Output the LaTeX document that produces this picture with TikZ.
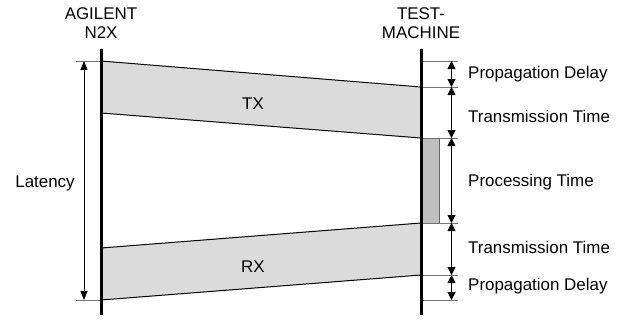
\documentclass[tikz,border=0pt]{standalone}
\usepackage{fontspec}
\setmainfont{Liberation Sans}
\usetikzlibrary{arrows.meta}
\begin{document}
\begin{tikzpicture}[x=1bp,y=-1bp,
  lbl/.style={font=\fontsize{17}{19.5}\selectfont,inner sep=0pt},
  life/.style={line width=3bp,black},
  band/.style={fill=black!14,draw=black,line width=1bp},
  procbox/.style={fill=black!25,draw=black!60,line width=1bp},
  tick/.style={draw=black!55,line width=1bp},
  dim/.style={draw=black!60,line width=0.9bp,{Triangle[width=8bp,length=8bp]}-{Triangle[width=8bp,length=8bp]},black},
  ldim/.style={draw=black,line width=0.8bp,{Triangle[width=7bp,length=9bp]}-{Triangle[width=7bp,length=9bp]}}]
\useasboundingbox (0,0) rectangle (627,323);
% coordinates
\coordinate (Lt) at (101,49);
\coordinate (Lb) at (101,315);
\coordinate (Rt) at (421,49);
\coordinate (Rb) at (421,315);
\coordinate (tx1) at (101,61);
\coordinate (tx2) at (421,87);
\coordinate (tx3) at (421,138);
\coordinate (tx4) at (101,113);
\coordinate (rx1) at (101,248);
\coordinate (rx2) at (421,223);
\coordinate (rx3) at (421,275);
\coordinate (rx4) at (101,300);
% bands
\path[band] (tx1) -- (tx2) -- (tx3) -- (tx4) -- cycle;
\path[band] (rx1) -- (rx2) -- (rx3) -- (rx4) -- cycle;
\path[procbox] (421,138) rectangle (439,223);
% ticks
\coordinate (a0) at (458,61);
\coordinate (a1) at (458,87);
\coordinate (a2) at (458,138);
\coordinate (a3) at (458,223);
\coordinate (a4) at (458,275);
\coordinate (a5) at (458,300);
\draw[tick] (tx2) -- (a1);
\draw[tick] (421,61) -- (a0);
\draw[tick] (tx3) -- (a2);
\draw[tick] (rx2) -- (a3);
\draw[tick] (rx3) -- (a4);
\draw[tick] (421,300) -- (a5);
\coordinate (l0) at (76,61);
\coordinate (l1) at (76,300);
\draw[tick] (l0) -- (tx1);
\draw[tick] (l1) -- (rx4);
% dimension arrows
\coordinate (d0) at (451.5,61);
\coordinate (d1) at (451.5,87);
\coordinate (d2) at (451.5,138);
\coordinate (d3) at (451.5,223);
\coordinate (d4) at (451.5,275);
\coordinate (d5) at (451.5,300);
\draw[dim] (d0) -- (d1);
\draw[dim] (d1) -- (d2);
\draw[dim] (d2) -- (d3);
\draw[dim] (d3) -- (d4);
\draw[dim] (d4) -- (d5);
\coordinate (ll0) at (84,61);
\coordinate (ll1) at (84,300);
\draw[ldim] (ll0) -- (ll1);
% lifelines
\draw[life] (Lt) -- (Lb);
\draw[life] (Rt) -- (Rb);
% labels
\node[lbl,align=center] (agilent) at (101,23) {AGILENT\\[-1bp]N2X};
\node[lbl,align=center] (tm) at (421,23) {TEST-\\[-1bp]MACHINE};
\node[lbl] (tx) at (253,104) {TX};
\node[lbl] (rx) at (253,267) {RX};
\node[lbl] (lat) at (45,183) {Latency};
\node[lbl,anchor=west] (p1) at (468,74) {Propagation Delay};
\node[lbl,anchor=west] (t1) at (468,116) {Transmission Time};
\node[lbl,anchor=west] (pr) at (468,182) {Processing Time};
\node[lbl,anchor=west] (t2) at (468,247) {Transmission Time};
\node[lbl,anchor=west] (p2) at (468,286) {Propagation Delay};
\end{tikzpicture}
\end{document}
